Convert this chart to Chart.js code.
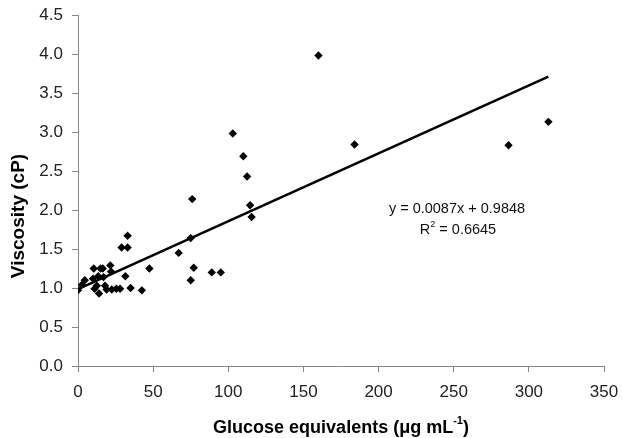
<!DOCTYPE html>
<html>
<head>
<meta charset="utf-8">
<title>Viscosity vs glucose equivalents</title>
<script src="https://cdn.jsdelivr.net/npm/chart.js@4/dist/chart.umd.min.js"></script>
<style>
  html, body { margin: 0; padding: 0; background: #fff; }
  #wrap { width: 622px; height: 438px; position: relative; }
</style>
</head>
<body>
<div id="wrap"><canvas id="viscosity-chart"></canvas></div>
<script>
  'use strict';

  // Datos.
  const glucose = [
    0, 2.5, 4.5, 10, 10.5, 11, 12.5, 14, 15, 13.5,
    17, 16.5, 18, 19, 21.5, 22, 22.5, 25.5, 28, 29,
    31.5, 33, 33, 35, 42.5, 47.5, 67, 75, 75, 76,
    77, 89, 95, 103, 110, 112.5, 114.5, 115.5, 160, 184,
    286.5, 313
  ];
  const viscosity = [
    0.97, 1.04, 1.10, 1.12, 1.25, 0.99, 1.03, 0.93, 1.25, 1.15,
    1.14, 1.25, 1.03, 0.98, 1.29, 1.21, 0.98, 0.99, 0.99, 1.52,
    1.15, 1.52, 1.67, 1.00, 0.97, 1.25, 1.45, 1.64, 1.10, 2.14,
    1.26, 1.20, 1.20, 2.98, 2.69, 2.43, 2.06, 1.91, 3.98, 2.84,
    2.83, 3.13
  ];
  // Extremos de la línea de tendencia.
  const trendX = [0, 313];
  const trendY = [0.985, 3.71];

  const xTitle = [{ t: 'Glucose equivalents (\u03bcg mL' }, { t: '-1', sup: true }, { t: ')' }];
  const yTitle = 'Viscosity (cP)';
  const equationLines = [
    [{ t: 'y = 0.0087x + 0.9848' }],
    [{ t: 'R' }, { t: '2', sup: true }, { t: ' = 0.6645' }]
  ];

  const FONT = '"Liberation Sans", Arial, sans-serif';
  const AXIS_GREY = '#868686';

  /**
   * Dibuja un texto con partes en superíndice, centrado en x.
   */
  function drawRich(ctx, parts, cx, cy, size, weight) {
    const supSize = Math.round(size * 0.62);
    let total = 0;
    parts.forEach(function (p) {
      ctx.font = weight + ' ' + (p.sup ? supSize : size) + 'px ' + FONT;
      total += ctx.measureText(p.t).width;
    });
    let x = cx - total / 2;
    ctx.textAlign = 'left';
    ctx.textBaseline = 'middle';
    parts.forEach(function (p) {
      ctx.font = weight + ' ' + (p.sup ? supSize : size) + 'px ' + FONT;
      ctx.fillText(p.t, x, p.sup ? cy - size * 0.38 : cy);
      x += ctx.measureText(p.t).width;
    });
  }

  // Títulos de ejes y ecuación de la regresión.
  const labelsPlugin = {
    id: 'labelsPlugin',
    afterDraw: function (chart) {
      const ctx = chart.ctx;
      const area = chart.chartArea;
      ctx.save();
      ctx.fillStyle = '#000';
      drawRich(ctx, xTitle, (area.left + area.right) / 2, 428, 18, 'bold');

      ctx.translate(19, 216);
      ctx.rotate(-Math.PI / 2);
      ctx.font = 'bold 19px ' + FONT;
      ctx.textAlign = 'center';
      ctx.textBaseline = 'middle';
      ctx.fillText(yTitle, 0, 0);
      ctx.setTransform(1, 0, 0, 1, 0, 0);

      ctx.fillStyle = '#111';
      drawRich(ctx, equationLines[0], 457, 209, 14.5, 'normal');
      drawRich(ctx, equationLines[1], 458, 230, 14.5, 'normal');
      ctx.restore();
    }
  };

  const points = glucose.map(function (g, i) {
    return { x: g, y: viscosity[i] };
  });
  const trend = trendX.map(function (g, i) {
    return { x: g, y: trendY[i] };
  });

  new Chart(document.getElementById('viscosity-chart'), {
    type: 'scatter',
    data: {
      datasets: [
        {
          data: points,
          pointStyle: 'rectRot',
          pointRadius: 4.2,
          pointHoverRadius: 4.2,
          backgroundColor: '#000',
          borderColor: '#000',
          borderWidth: 0,
          order: 1
        },
        {
          type: 'line',
          data: trend,
          borderColor: '#000',
          borderWidth: 2.6,
          pointRadius: 0,
          fill: false,
          order: 0
        }
      ]
    },
    options: {
      responsive: true,
      maintainAspectRatio: false,
      animation: false,
      events: [],
      layout: {
        padding: { top: 15, right: 18, bottom: 0, left: 0 }
      },
      plugins: {
        legend: { display: false },
        tooltip: { enabled: false }
      },
      scales: {
        x: {
          type: 'linear',
          min: 0,
          max: 350,
          border: { display: true, color: AXIS_GREY, width: 1 },
          grid: {
            drawOnChartArea: false,
            drawTicks: true,
            tickLength: 6,
            tickColor: AXIS_GREY
          },
          ticks: {
            stepSize: 50,
            padding: 10,
            color: '#222',
            font: { family: FONT, size: 17 }
          },
          afterFit: function (scale) {
            scale.height = 72;
            // Sin relleno automático: el área la fija layout.padding.
            scale.paddingLeft = 0;
            scale.paddingRight = 0;
          }
        },
        y: {
          type: 'linear',
          min: 0,
          max: 4.5,
          border: { display: true, color: AXIS_GREY, width: 1 },
          grid: {
            drawOnChartArea: false,
            drawTicks: true,
            tickLength: 6,
            tickColor: AXIS_GREY
          },
          ticks: {
            stepSize: 0.5,
            padding: 9,
            color: '#222',
            font: { family: FONT, size: 17 },
            callback: function (value) {
              return value.toFixed(1);
            }
          },
          afterFit: function (scale) {
            scale.width = 78;
            scale.paddingTop = 0;
            scale.paddingBottom = 0;
          }
        }
      }
    },
    plugins: [labelsPlugin]
  });
</script>
</body>
</html>
